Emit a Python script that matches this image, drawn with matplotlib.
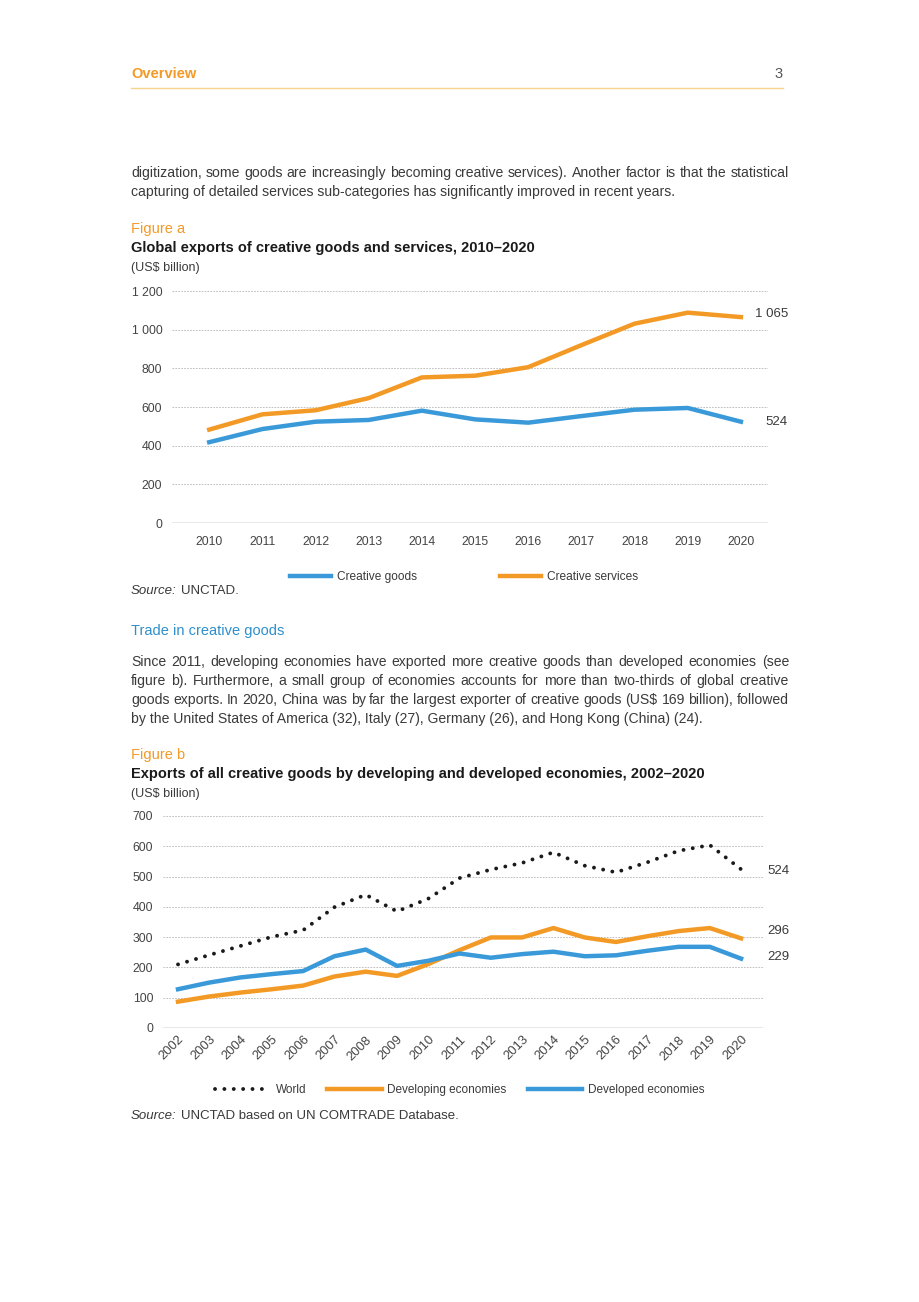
import matplotlib
matplotlib.use('Agg')
import matplotlib.pyplot as plt
from matplotlib.lines import Line2D

# Figure a data (US$ billion)
years_a = [2010, 2011, 2012, 2013, 2014, 2015, 2016, 2017, 2018, 2019, 2020]
creative_goods = [418, 486, 524, 533, 581, 536, 519, 553, 586, 595, 524]
creative_services = [483, 562, 583, 646, 753, 762, 806, 920, 1031, 1088, 1065]
yticks_a = [0, 200, 400, 600, 800, 1000, 1200]
ytick_labels_a = ['0', '200', '400', '600', '800', '1 000', '1 200']

# Figure b data (US$ billion)
years_b = list(range(2002, 2021))
world = [210, 241, 271, 301, 323, 399, 440, 385, 427, 495, 523, 545, 580, 536, 514, 547, 585, 604, 524]
developing = [87, 104, 117, 128, 140, 170, 186, 172, 211, 257, 299, 299, 330, 299, 284, 303, 320, 330, 296]
developed = [128, 150, 167, 178, 188, 237, 259, 205, 222, 246, 232, 244, 252, 237, 240, 255, 268, 268, 229]
yticks_b = [0, 100, 200, 300, 400, 500, 600, 700]

ORANGE = '#F39A26'
BLUE = '#3A9AD9'
TEXT = '#3a3a3a'
GRID = '#b5b5b5'
W, H = 920, 1302

plt.rcParams['font.family'] = ['Liberation Sans', 'DejaVu Sans']
fig = plt.figure(figsize=(9.2, 13.02), dpi=100)


def px(x, y):
    return x / W, 1 - y / H


def text(x, y, s, **kw):
    kw.setdefault('color', TEXT)
    kw.setdefault('va', 'baseline')
    return fig.text(*px(x, y), s, **kw)


def justified(lines, x0, x1, y, dy, **kw):
    renderer = fig.canvas.get_renderer()
    for i, line in enumerate(lines):
        yy = y + i * dy
        if i == len(lines) - 1:
            text(x0, yy, line, **kw)
            continue
        words = line.split(' ')
        ts = [text(x0, yy, w, **kw) for w in words]
        widths = [t.get_window_extent(renderer).width for t in ts]
        gap = (x1 - x0 - sum(widths)) / (len(words) - 1)
        xx = x0
        for t, w in zip(ts, widths):
            t.set_position(px(xx, yy))
            xx += w + gap


# header
text(131, 78, 'Overview', color=ORANGE, fontsize=10.5, fontweight='bold')
text(783, 78, '3', color='#555555', fontsize=10.5, ha='right')
fig.add_artist(Line2D([131 / W, 783 / W], [1 - 88 / H, 1 - 88 / H], color='#F7D48C', lw=1.0))

para1 = ['digitization, some goods are increasingly becoming creative services). Another factor is that the statistical',
         'capturing of detailed services sub-categories has significantly improved in recent years.']
justified(para1, 131, 789, 177, 19, fontsize=10.1)

text(131, 233, 'Figure a', color=ORANGE, fontsize=10.5)
text(131, 252, 'Global exports of creative goods and services, 2010\u20132020', fontsize=10.5,
     fontweight='bold', color='#1a1a1a')
text(131, 271, '(US$ billion)', fontsize=9)

# ---- chart a
ax1 = fig.add_axes([172 / W, 1 - 523 / H, 596 / W, 232 / H])
ax1.plot(years_a, creative_goods, color=BLUE, lw=3.2, label='Creative goods', clip_on=False)
ax1.plot(years_a, creative_services, color=ORANGE, lw=3.2, label='Creative services', clip_on=False)
ax1.set_xlim(2009.30, 2020.51)
ax1.set_ylim(0, 1200)
ax1.set_xticks(years_a)
ax1.set_yticks(yticks_a)
ax1.set_yticklabels(ytick_labels_a)
ax1.annotate('1 065', (years_a[-1], creative_services[-1]), xytext=(10, 2), textcoords='offset points',
             fontsize=9.5, color=TEXT, va='center')
ax1.annotate('524', (years_a[-1], creative_goods[-1]), xytext=(18, 0), textcoords='offset points',
             fontsize=9.5, color=TEXT, va='center')
ax1.legend(loc='upper center', bbox_to_anchor=(0.49, -0.16), ncol=2, frameon=False, fontsize=8.6,
           handlelength=3.4, handletextpad=0.5, columnspacing=7.0, labelcolor=TEXT)
text(131, 594, 'Source:', fontsize=9.5, style='italic')
text(181, 594, 'UNCTAD.', fontsize=9.5)

text(131, 635, 'Trade in creative goods', color='#2E8FCB', fontsize=10.5)
para2 = ['Since 2011, developing economies have exported more creative goods than developed economies (see',
         'figure b). Furthermore, a small group of economies accounts for more than two-thirds of global creative',
         'goods exports. In 2020, China was by far the largest exporter of creative goods (US$ 169 billion), followed',
         'by the United States of America (32), Italy (27), Germany (26), and Hong Kong (China) (24).']
justified(para2, 131, 789, 666, 19, fontsize=10.1)

text(131, 759, 'Figure b', color=ORANGE, fontsize=10.5)
text(131, 778, 'Exports of all creative goods by developing and developed economies, 2002\u20132020',
     fontsize=10.5, fontweight='bold', color='#1a1a1a')
text(131, 797, '(US$ billion)', fontsize=9)

# ---- chart b
ax2 = fig.add_axes([163 / W, 1 - 1028 / H, 600 / W, 212 / H])
ax2.plot(years_b, world, color='#1a1a1a', lw=2.8, linestyle=(0, (0.01, 2.4)), dash_capstyle='round',
         label='World', clip_on=False)
ax2.plot(years_b, developing, color=ORANGE, lw=3.2, label='Developing economies', clip_on=False)
ax2.plot(years_b, developed, color=BLUE, lw=3.2, label='Developed economies', clip_on=False)
ax2.set_xlim(2001.52, 2020.70)
ax2.set_ylim(0, 700)
ax2.set_xticks(years_b)
ax2.set_yticks(yticks_b)
for lab, val, dy in [('524', world[-1], -1.5), ('296', developing[-1], 5), ('229', developed[-1], 1)]:
    ax2.annotate(lab, (years_b[-1], val), xytext=(19, dy), textcoords='offset points',
                 fontsize=9.5, color=TEXT, va='center')
ax2.legend(loc='upper center', bbox_to_anchor=(0.495, -0.215), ncol=3, frameon=False, fontsize=8.5,
           handlelength=4.6, handletextpad=0.5, columnspacing=1.8, labelcolor=TEXT)
text(131, 1119, 'Source:', fontsize=9.5, style='italic')
text(181, 1119, 'UNCTAD based on UN COMTRADE Database.', fontsize=9.5)

for ax in (ax1, ax2):
    for sp in ax.spines.values():
        sp.set_visible(False)
    ax.grid(axis='y', color=GRID, lw=0.6, linestyle=(0, (2, 1.5)))
    ax.set_axisbelow(True)
    ax.axhline(0, color='#8c8c8c', lw=1.0, zorder=1.5)
    ax.tick_params(length=0, labelsize=8.8, labelcolor='#444444')
    ax.tick_params(axis='y', pad=7)

ax1.tick_params(axis='x', pad=9)
for lab in ax2.get_xticklabels():
    lab.set_rotation(45)
    lab.set_ha('right')
    lab.set_rotation_mode('anchor')
    lab.set_fontsize(9.4)
ax2.tick_params(axis='x', pad=4)

fig.savefig('out.png', dpi=100)
